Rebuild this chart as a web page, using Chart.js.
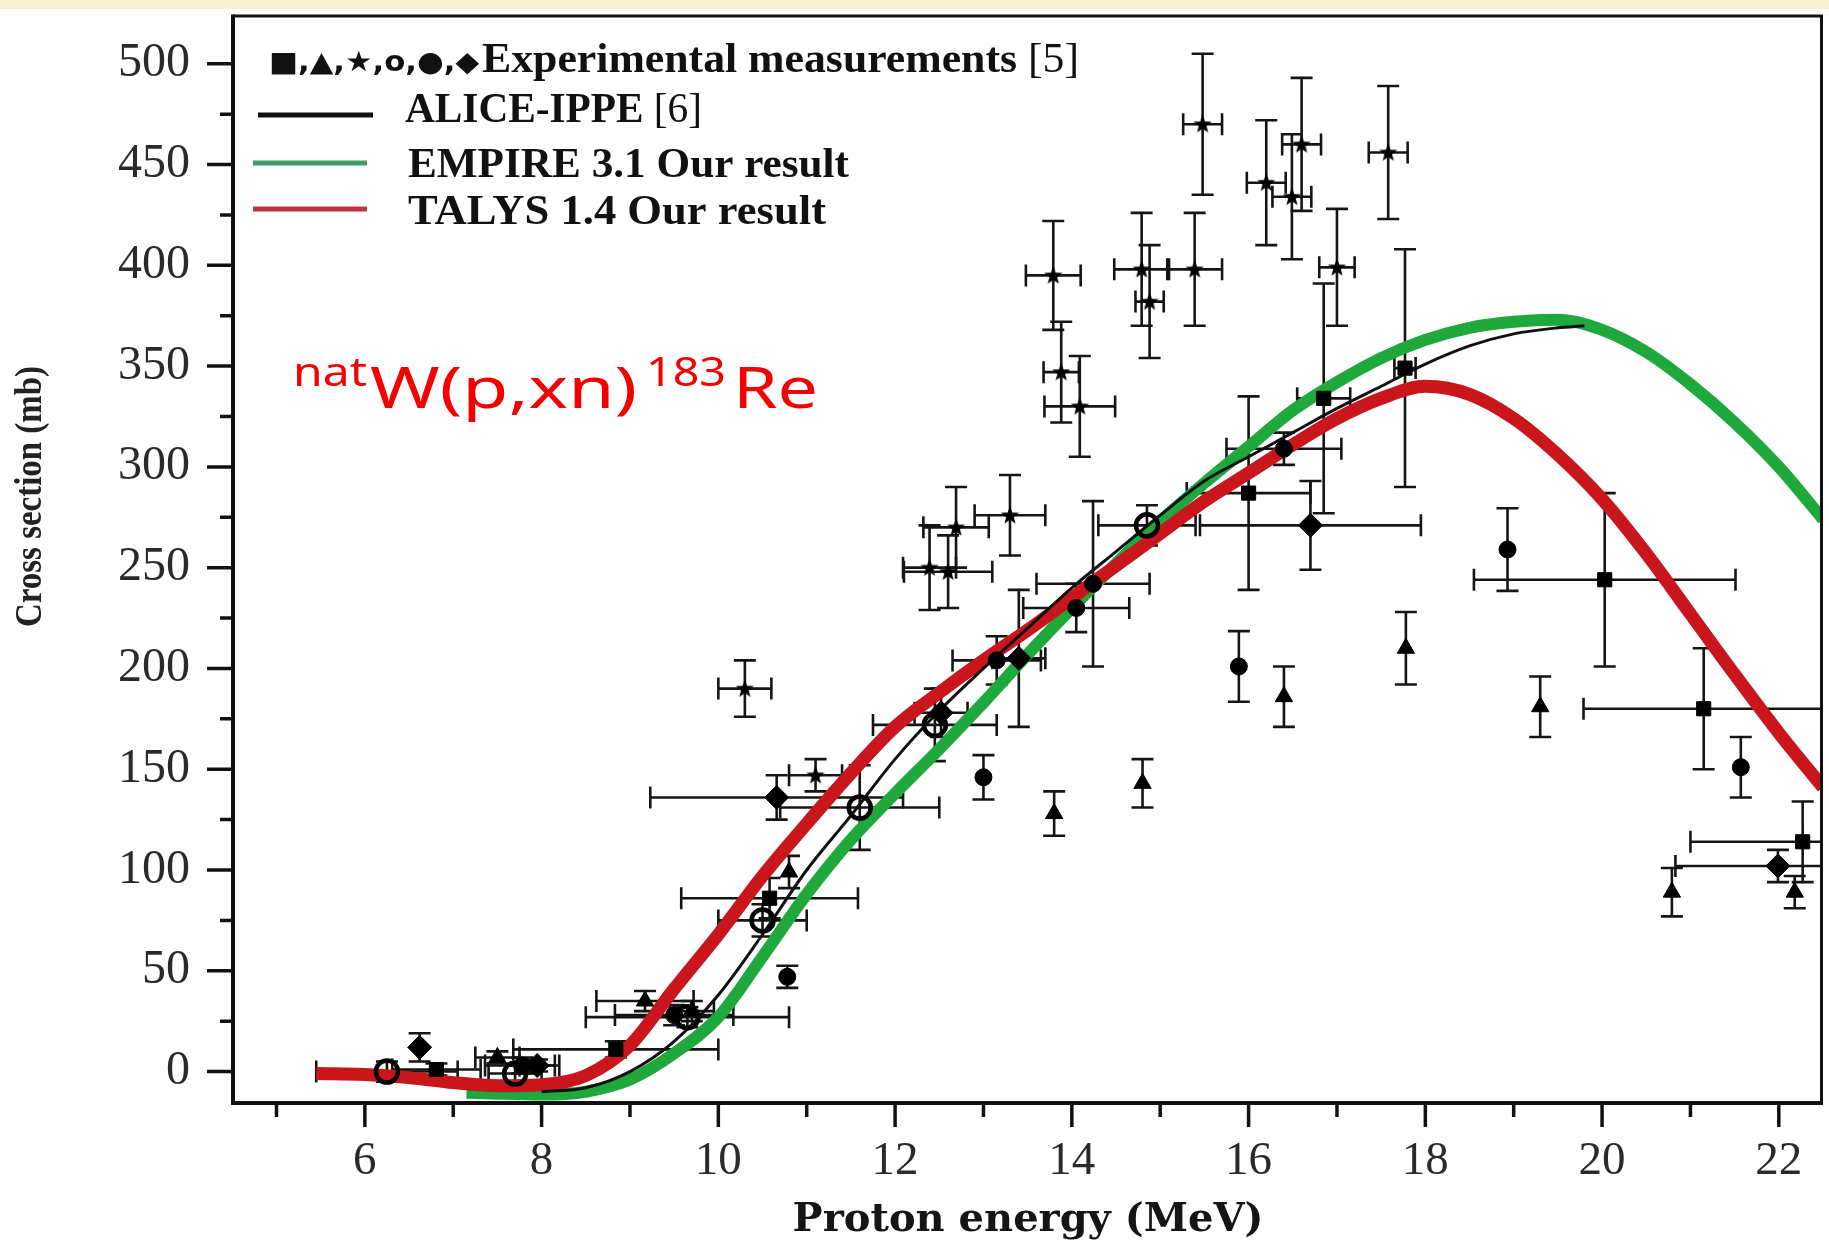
<!DOCTYPE html>
<html>
<head>
<meta charset="utf-8">
<script src="https://cdn.jsdelivr.net/npm/chart.js@4.4.1/dist/chart.umd.min.js"></script>
<style>
  html, body { margin: 0; padding: 0; background: #fff; overflow: hidden; }
  canvas { display: block; }
</style>
</head>
<body>
<canvas id="xsChart" width="1829" height="1247"></canvas>
<script>
// natW(p,xn)183Re cross section vs proton energy

const xTicks = [5, 6, 7, 8, 9, 10, 11, 12, 13, 14, 15, 16, 17, 18, 19, 20, 21, 22];
const yTicks = [0, 25, 50, 75, 100, 125, 150, 175, 200, 225, 250, 275, 300, 325, 350, 375, 400, 425, 450, 475, 500];

// model curves
const talysE = [5.45, 6, 6.5, 7, 7.5, 8, 8.5, 9, 9.5, 10, 10.5, 11, 11.5, 12, 12.5, 13, 13.5, 14, 14.5, 15, 15.5, 16, 16.5, 17, 17.5, 18, 18.5, 19, 19.5, 20, 20.5, 21, 21.5, 22, 22.5];
const talysXs = [-1, -1.5, -3, -5.5, -7, -6.5, -2, 13, 41, 68, 97, 123, 148, 171, 188, 204, 219, 235, 251, 267, 283, 297, 311, 324, 334, 340, 336, 324, 306, 284, 257, 227, 197, 168, 141];

const empireE = [7.15, 7.5, 8, 8.5, 9, 9.5, 10, 10.5, 11, 11.5, 12, 12.5, 13, 13.5, 14, 14.5, 15, 15.5, 16, 16.5, 17, 17.5, 18, 18.5, 19, 19.5, 20, 20.5, 21, 21.5, 22, 22.5];
const empireXs = [-10.5, -11, -11.4, -10, -4, 9, 27, 57, 88, 115, 138, 160, 183, 207, 230, 252, 273, 292, 310, 328, 342, 354, 363, 369, 372, 373, 368, 357, 341, 322, 300, 274];

const aliceE = [8, 8.5, 9, 9.5, 10, 10.5, 11, 11.5, 12, 12.5, 13, 13.5, 14, 14.5, 15, 15.5, 16, 16.5, 17, 17.5, 18, 18.5, 19, 19.5, 19.8];
const aliceXs = [-10, -8, 0, 15, 38, 68, 100, 127, 155, 179, 200, 220, 240, 258, 276, 293, 305, 317, 329, 340, 351, 360, 366, 369, 370];

// experimental points [5]
const sqE = [6.81, 8.84, 10.58, 16.0, 16.85, 17.77, 20.03, 21.15, 22.27];
const sqXs = [1, 11, 86, 287, 334, 349, 244, 180, 114];
const sqDE = [0.5, 1.16, 1.0, 0.7, 0.3, 0.12, 1.48, 1.36, 1.27];
const sqDXs = [3, 4, 10, 48, 57, 59, 43, 30, 20];

const triE = [7.5, 9.17, 9.7, 10.8, 13.8, 14.8, 16.4, 17.78, 19.3, 20.79, 22.18];
const triXs = [7, 35, 30, 99, 128, 143, 186, 210, 181, 89, 89];
const triDE = [0.25, 0.55, 0.25, 0, 0, 0, 0, 0, 0, 0, 0];
const triDXs = [3, 5, 5, 8, 11, 12, 15, 18, 15, 12, 8];

const starE = [10.3, 11.1, 12.39, 12.6, 12.69, 13.3, 13.79, 13.88, 14.09, 14.79, 14.88, 15.39, 15.48, 16.2, 16.49, 16.6, 17.0, 17.58];
const starXs = [190, 147, 250, 248, 270, 276, 395, 347, 330, 398, 382, 398, 470, 441, 434, 460, 399, 456];
const starDE = [0.3, 0.3, 0.3, 0.5, 0.37, 0.4, 0.31, 0.2, 0.4, 0.31, 0.16, 0.31, 0.22, 0.22, 0.22, 0.22, 0.2, 0.22];
const starDXs = [14, 8, 21, 18, 20, 20, 27, 25, 25, 28, 28, 28, 35, 31, 31, 33, 29, 33];

const ocE = [6.25, 7.7, 9.65, 10.5, 11.6, 12.45, 14.85];
const ocXs = [0, -1, 27, 75, 131, 172, 271];
const ocDE = [0.8, 0.3, 1.15, 0.5, 0.9, 0.7, 0.55];
const ocDXs = [5, 4, 5, 8, 21, 18, 10];

const fcE = [7.78, 9.5, 10.78, 13.0, 13.15, 14.05, 14.24, 15.89, 16.4, 18.93, 21.57];
const fcXs = [3, 28, 47, 146, 204, 230, 242, 201, 309, 259, 151];
const fcDE = [0.42, 0.67, 0, 0, 0.5, 0.6, 0.64, 0, 0.65, 0, 0];
const fcDXs = [4, 5, 5.5, 11, 12, 12, 41, 17.5, 8, 20.5, 15];

const diaE = [6.62, 7.95, 10.66, 12.52, 13.4, 16.7, 21.99];
const diaXs = [12, 3, 136, 178, 205, 271, 102];
const diaDE = [0, 0.2, 1.43, 0.3, 0.3, 1.25, 1.16];
const diaDXs = [7, 3, 11, 12, 34, 22, 8];

function pts(xs, ys) {
  return xs.map((x, i) => ({ x: x, y: ys[i] }));
}

// filled five point star for the marker
const starImg = document.createElement('canvas');
starImg.width = 20;
starImg.height = 20;
(function () {
  const c = starImg.getContext('2d');
  c.fillStyle = '#000';
  c.beginPath();
  for (let i = 0; i < 10; i++) {
    const r = i % 2 === 0 ? 9.5 : 4;
    const a = -Math.PI / 2 + i * Math.PI / 5;
    c.lineTo(10 + r * Math.cos(a), 10.5 + r * Math.sin(a));
  }
  c.closePath();
  c.fill();
})();

function expSet(label, xs, ys, dx, dy, style, radius, extra) {
  return Object.assign({
    label: label,
    data: pts(xs, ys),
    errX: dx,
    errY: dy,
    pointStyle: style,
    pointRadius: radius,
    backgroundColor: '#000',
    borderColor: '#000',
    borderWidth: 1,
    order: 0
  }, extra || {});
}

function curveSet(label, xs, ys, color, width, order) {
  return {
    label: label,
    data: pts(xs, ys),
    showLine: true,
    borderColor: color,
    borderWidth: width,
    pointRadius: 0,
    cubicInterpolationMode: 'monotone',
    order: order
  };
}

// error bars under everything
const errorBars = {
  id: 'errorBars',
  beforeDatasetsDraw(chart) {
    const ctx = chart.ctx;
    const xs = chart.scales.x, ys = chart.scales.y;
    const a = chart.chartArea;
    ctx.save();
    ctx.beginPath();
    ctx.rect(a.left, a.top, a.right - a.left, a.bottom - a.top);
    ctx.clip();
    ctx.strokeStyle = '#151515';
    ctx.lineWidth = 2.6;
    const cap = 11;
    chart.data.datasets.forEach(ds => {
      if (!ds.errX) return;
      ds.data.forEach((p, i) => {
        const px = xs.getPixelForValue(p.x), py = ys.getPixelForValue(p.y);
        const ex = ds.errX[i], ey = ds.errY[i];
        ctx.beginPath();
        if (ey) {
          const t = ys.getPixelForValue(p.y + ey), b = ys.getPixelForValue(p.y - ey);
          ctx.moveTo(px, t); ctx.lineTo(px, b);
          ctx.moveTo(px - cap, t); ctx.lineTo(px + cap, t);
          ctx.moveTo(px - cap, b); ctx.lineTo(px + cap, b);
        }
        if (ex) {
          const l = xs.getPixelForValue(p.x - ex), r = xs.getPixelForValue(p.x + ex);
          ctx.moveTo(l, py); ctx.lineTo(r, py);
          ctx.moveTo(l, py - cap); ctx.lineTo(l, py + cap);
          ctx.moveTo(r, py - cap); ctx.lineTo(r, py + cap);
        }
        ctx.stroke();
      });
    });
    ctx.restore();
  }
};

// draws text pieces squeezed/stretched to a target width
function fitText(ctx, pieces, x, y, width) {
  let total = 0;
  pieces.forEach(p => { ctx.font = p[1]; total += ctx.measureText(p[0]).width; });
  ctx.save();
  ctx.translate(x, y);
  ctx.scale(width / total, 1);
  let cx = 0;
  pieces.forEach(p => {
    ctx.font = p[1];
    ctx.fillText(p[0], cx, 0);
    cx += ctx.measureText(p[0]).width;
  });
  ctx.restore();
}

const frame = {
  id: 'frame',
  beforeDraw(chart) {
    const ctx = chart.ctx;
    ctx.save();
    ctx.fillStyle = '#fff';
    ctx.fillRect(0, 0, chart.width, chart.height);
    ctx.fillStyle = '#f4f0d0';
    ctx.fillRect(0, 0, chart.width, 9);
    ctx.restore();
  },
  afterDraw(chart) {
    const ctx = chart.ctx;
    const a = chart.chartArea;
    const xs = chart.scales.x, ys = chart.scales.y;
    ctx.save();
    ctx.strokeStyle = '#111';
    ctx.lineWidth = 3;
    ctx.beginPath();
    ctx.moveTo(a.left, a.top); ctx.lineTo(a.right - 1.5, a.top); ctx.lineTo(a.right - 1.5, a.bottom);
    ctx.stroke();
    ctx.lineWidth = 4;
    ctx.beginPath();
    ctx.moveTo(a.left, a.top - 1.5); ctx.lineTo(a.left, a.bottom); ctx.lineTo(a.right, a.bottom);
    ctx.stroke();

    // outward ticks, long on labelled values
    ctx.lineWidth = 3.5;
    ctx.beginPath();
    ys.ticks.forEach(t => {
      const py = ys.getPixelForValue(t.value);
      const len = t.value % 50 === 0 ? 26 : 13;
      ctx.moveTo(a.left, py); ctx.lineTo(a.left - len, py);
    });
    xs.ticks.forEach(t => {
      const px = xs.getPixelForValue(t.value);
      const len = t.value % 2 === 0 ? 24 : 14;
      ctx.moveTo(px, a.bottom); ctx.lineTo(px, a.bottom + len);
    });
    ctx.stroke();

    // y axis title
    ctx.fillStyle = '#222';
    ctx.textBaseline = 'middle';
    ctx.save();
    ctx.translate(31, 497);
    ctx.rotate(-Math.PI / 2);
    fitText(ctx, [['Cross section (mb)', "bold 38px 'Liberation Serif'"]], -130, 0, 261);
    ctx.restore();

    // legend
    ctx.textBaseline = 'alphabetic';
    ctx.fillStyle = '#111';
    fitText(ctx, [['\u25A0,\u25B2,\u2605,o,\u25CF,\u25C6', "bold 28px 'DejaVu Sans'"]], 269, 71, 210);
    fitText(ctx, [['Experimental measurements ', "bold 42px 'Liberation Serif'"], ['[5]', "42px 'Liberation Serif'"]], 482, 72, 597);
    fitText(ctx, [['ALICE-IPPE ', "bold 42px 'Liberation Serif'"], ['[6]', "42px 'Liberation Serif'"]], 405, 122, 297);
    fitText(ctx, [['EMPIRE 3.1 Our result', "bold 42px 'Liberation Serif'"]], 408, 177, 441);
    fitText(ctx, [['TALYS 1.4 Our result', "bold 42px 'Liberation Serif'"]], 408, 224, 418);
    ctx.lineWidth = 5;
    [[115, '#111', 258, 373], [163, '#3f9e63', 253, 367], [209, '#bd3540', 253, 367]].forEach(l => {
      ctx.strokeStyle = l[1];
      ctx.beginPath();
      ctx.moveTo(l[2], l[0]); ctx.lineTo(l[3], l[0]);
      ctx.stroke();
    });

    // reaction label
    ctx.fillStyle = '#f40000';
    fitText(ctx, [['nat', "40px 'Noto Sans'"]], 293, 386, 74);
    fitText(ctx, [['W(p,xn)', "56px 'Noto Sans'"]], 370, 408, 267);
    fitText(ctx, [['183', "40px 'Noto Sans'"]], 646, 386, 80);
    fitText(ctx, [['Re', "56px 'Noto Sans'"]], 733, 408, 85);
    ctx.restore();
  }
};

const xsChart = new Chart(document.getElementById('xsChart'), {
  type: 'scatter',
  data: {
    datasets: [
      expSet('square', sqE, sqXs, sqDE, sqDXs, 'rect', 10),
      expSet('triangle', triE, triXs, triDE, triDXs, 'triangle', 10),
      expSet('star', starE, starXs, starDE, starDXs, starImg, 9),
      expSet('open circle', ocE, ocXs, ocDE, ocDXs, 'circle', 11, { backgroundColor: 'rgba(0,0,0,0)', borderWidth: 4.5 }),
      expSet('filled circle', fcE, fcXs, fcDE, fcDXs, 'circle', 8.5),
      expSet('diamond', diaE, diaXs, diaDE, diaDXs, 'rectRot', 12),
      curveSet('ALICE-IPPE [6]', aliceE, aliceXs, '#111', 3, 1),
      curveSet('TALYS 1.4 Our result', talysE, talysXs, '#c8161c', 13, 2),
      curveSet('EMPIRE 3.1 Our result', empireE, empireXs, '#1fa83c', 12, 3)
    ]
  },
  options: {
    responsive: false,
    animation: false,
    events: [],
    layout: { autoPadding: false, padding: { top: 16, right: 6, left: 0, bottom: 0 } },
    plugins: {
      legend: { display: false },
      tooltip: { enabled: false }
    },
    scales: {
      x: {
        type: 'linear',
        min: 4.508,
        max: 22.5,
        afterBuildTicks: s => { s.ticks = xTicks.map(v => ({ value: v })); },
        afterFit: s => { s.height = 144; s.paddingLeft = 0; s.paddingRight = 0; },
        grid: { display: false, drawTicks: false },
        border: { display: false },
        ticks: {
          autoSkip: false,
          maxRotation: 0,
          padding: 30,
          color: '#2a2a2a',
          font: { family: "'Liberation Serif'", size: 47 },
          callback: v => (v % 2 === 0 ? String(v) : '')
        },
        title: {
          display: true,
          text: 'Proton energy (MeV)',
          color: '#151515',
          font: { family: "'DejaVu Serif'", size: 40, weight: 'bold' },
          padding: { top: 0, bottom: 2 }
        }
      },
      y: {
        min: -15.6,
        max: 523.7,
        afterBuildTicks: s => { s.ticks = yTicks.map(v => ({ value: v })); },
        afterFit: s => { s.width = 233; s.paddingTop = 0; s.paddingBottom = 0; },
        grid: { display: false, drawTicks: false },
        border: { display: false },
        ticks: {
          autoSkip: false,
          padding: 43,
          color: '#2a2a2a',
          font: { family: "'Liberation Serif'", size: 48 },
          callback: v => (v % 50 === 0 ? String(v) : '')
        }
      }
    }
  },
  plugins: [errorBars, frame]
});
</script>
</body>
</html>
